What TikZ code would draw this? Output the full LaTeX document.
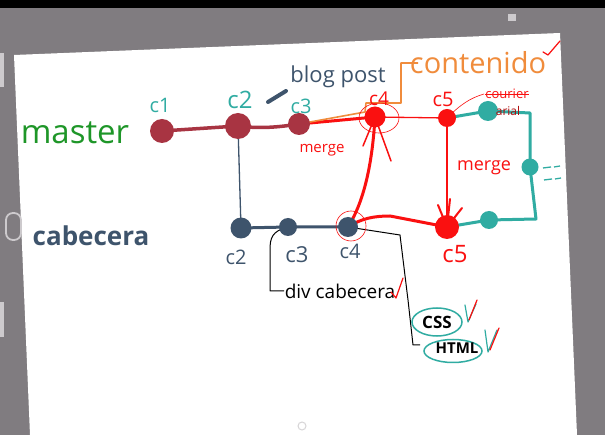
\documentclass[tikz,border=0pt]{standalone}
\usepackage{fontspec}
\setmainfont{Open Sans}
\usetikzlibrary{shapes.geometric}
\definecolor{bggray}{RGB}{128,124,128}
\definecolor{lightui}{RGB}{205,202,205}
\definecolor{mcol}{RGB}{168,52,66}
\definecolor{rcol}{RGB}{250,16,16}
\definecolor{tcol}{RGB}{48,172,162}
\definecolor{scol}{RGB}{62,84,108}
\definecolor{gcol}{RGB}{30,150,40}
\definecolor{ocol}{RGB}{240,140,60}
\pgfdeclarelayer{bg}
\pgfdeclarelayer{lines}
\pgfsetlayers{bg,lines,main}
\tikzset{
  commit/.style={circle, inner sep=0pt, minimum size=#1},
  lbl/.style={inner sep=0pt, font=\fontsize{#1}{#1}\selectfont},
  mline/.style={draw=mcol, line width=3.5pt, line cap=round},
  rline/.style={draw=rcol, line cap=round},
  tline/.style={draw=tcol, line width=3pt, line cap=round, line join=round},
  sline/.style={draw=scol, line cap=round},
  bline/.style={draw=black, line width=1pt, line join=round},
  oline/.style={draw=ocol, line width=1.6pt, line join=round},
  check/.style={line width=1.2pt, line cap=round, line join=round},
}
\begin{document}
\begin{tikzpicture}[x=1pt,y=-1pt]
\useasboundingbox (0,0) rectangle (605,435);
% ---------- background ----------
\begin{pgfonlayer}{bg}
\fill[bggray] (0,0) rectangle (605,435);
\fill[black] (0,0) rectangle (605,8);
\fill[white] (14,55) -- (560,33) -- (577,435) -- (30,435) -- cycle;
\fill[lightui] (508,14) rectangle (516,21);
\fill[lightui] (0,53) rectangle (4,87);
\fill[lightui] (0,302) rectangle (4,337);
\draw[lightui, line width=1.8pt, rounded corners=7pt] (6,213) rectangle (21,240);
\draw[lightui!80!white, line width=1pt] (302,426) circle (4);
\end{pgfonlayer}
% ---------- commits ----------
\node[commit=24pt, fill=mcol] (m1) at (162,131) {};
\node[commit=26pt, fill=mcol] (m2) at (238,126) {};
\node[commit=22pt, fill=mcol] (m3) at (299,124) {};
\node[commit=21pt, fill=rcol] (m4) at (375,117) {};
\node[commit=18pt, fill=rcol] (m5) at (447,118) {};
\node[commit=20pt, fill=tcol] (t1) at (488,111) {};
\node[commit=17pt, fill=tcol] (t2) at (530,167) {};
\node[commit=18pt, fill=tcol] (t3) at (489,220) {};
\node[commit=21pt, fill=scol] (k2) at (241,228) {};
\node[commit=18pt, fill=scol] (k3) at (288,227) {};
\node[commit=20pt, fill=scol] (k4) at (348,227) {};
\node[commit=24pt, fill=rcol] (k5) at (447,227) {};
% helper coordinates
\coordinate (o1) at (365,112);
\coordinate (o2) at (366,103);
\coordinate (o3) at (401,103);
\coordinate (o4) at (401,63);
\coordinate (o5) at (418,63);
\coordinate (tc1) at (530,113);
\coordinate (tc2) at (536,219);
\coordinate (b1) at (270,291);
\coordinate (b2) at (284,291);
\coordinate (b3) at (400,235);
\coordinate (b4) at (413,345);
\coordinate (b5) at (420,345);
% ---------- connectors ----------
\begin{pgfonlayer}{lines}
\draw[mline] (m1.center) -- (m2.center);
\draw[mline] (m2.center) .. controls (260,129) and (280,127) .. (m3.center);
\draw[rline, line width=3pt] (m3.center) -- (m4.center);
\draw[oline] (m3.center) -- (o1) -- (o2) -- (o3) -- (o4) -- (o5);
\draw[rline, line width=1.3pt] (m4.center) -- (m5.center);
\draw[tline] (m5.center) -- (t1.center) -- (tc1) -- (t2.center) -- (tc2) -- (t3.center) -- (k5.center);
\draw[sline, line width=1.3pt] (m2.center) -- (k2.center);
\draw[sline, line width=3pt] (k2.center) -- (k3.center) -- (k4.center);
\draw[rline, line width=3pt] (k4.center) .. controls (362,205) and (372,170) .. (m4.center);
\draw[rline, line width=1.5pt] (m4.center) -- (363,146);
\draw[rline, line width=1.5pt] (m4.center) -- (391,161);
\draw[rline, line width=3pt] (k4.center) .. controls (362,218) and (375,216) .. (390,216) -- (k5.center);
\draw[rline, line width=1.3pt] (m5.center) -- (k5.center);
\draw[rline, line width=2pt] (k5.center) -- (438,205);
\draw[rline, line width=2pt] (k5.center) -- (450,199);
\draw[rline, line width=2pt] (k5.center) -- (462,208);
\draw[rline, line width=0.6pt] (m5.center) .. controls (460,105) and (470,98) .. (484,94);
\draw[bline] (k3.center) .. controls (272,231) and (270,238) .. (270,250) -- (b1) -- (b2);
\draw[bline] (k4.center) -- (b3) -- (408,300) -- (b4) -- (b5);
\end{pgfonlayer}
\draw[rcol, line width=0.6pt] (379,118) ellipse (20 and 15);
\draw[rcol, line width=0.6pt] (351,226) circle (15);
% slash before blog post
\draw[scol, line width=4pt, line cap=round] (268,102) -- (286,91);
% ---------- labels ----------
\node[lbl=33, text=gcol] (lmaster) at (75,133) {master};
\node[lbl=26, text=scol, font=\bfseries\fontsize{26}{26}\selectfont] (lcab) at (91,236) {cabecera};
\node[lbl=20, text=tcol] (lc1) at (160,105) {c1};
\node[lbl=24, text=tcol] (lc2) at (240,100) {c2};
\node[lbl=20, text=tcol] (lc3) at (301,106) {c3};
\node[lbl=19, text=rcol] (lc4) at (379,99) {c4};
\node[lbl=20, text=rcol] (lc5) at (443,99) {c5};
\node[lbl=20, text=scol] (lk2) at (236,257) {c2};
\node[lbl=22, text=scol] (lk3) at (297,255) {c3};
\node[lbl=20, text=scol] (lk4) at (350,251) {c4};
\node[lbl=24, text=rcol] (lk5) at (455,254) {c5};
\node[lbl=22, text=scol] (lblog) at (338,77) {blog post};
\node[lbl=29, text=ocol] (lcont) at (478,63) {contenido};
\node[lbl=15, text=rcol] (lmerge1) at (322,150) {merge};
\node[lbl=18, text=rcol] (lmerge2) at (484,168) {merge};
\node[lbl=13, text=rcol] (lcour) at (507,94) {courier};
\draw[rcol, line width=0.8pt] (lcour.west) -- (lcour.east);
\node[lbl=12, text=rcol!70!black] (larial) at (508,111) {arial};
\node[lbl=19, text=black] (ldiv) at (340,291) {div cabecera};
\node[ellipse, draw=tcol, line width=1.5pt, minimum width=50pt, minimum height=28pt, inner sep=0pt] (ecss) at (437,322) {};
\node[lbl=17, text=black, font=\bfseries\fontsize{17}{17}\selectfont] (lcss) at (437,322) {CSS};
\node[ellipse, draw=tcol, line width=1.5pt, minimum width=58pt, minimum height=23pt, inner sep=0pt] (ehtml) at (453,351) {};
\node[lbl=15, text=black, font=\bfseries\fontsize{15}{15}\selectfont] (lhtml) at (457,348) {HTML};
% teal dashes
\draw[tcol, line width=1.3pt] (543,168) -- (551,167) (554,167) -- (560,166);
\draw[tcol, line width=1.3pt] (544,180) -- (552,179) (555,179) -- (561,178);
% checks
\draw[rcol, check] (543,52) -- (548,55) -- (560,41);
\draw[rcol, check] (391,292) -- (396,298) -- (403,278);
\draw[tcol, check] (465,305) -- (468,322) -- (476,304);
\draw[rcol, check] (469,320) -- (477,300);
\draw[tcol, check] (485,330) -- (488,352) -- (497,330);
\draw[rcol, check] (490,350) -- (499,328);
\end{tikzpicture}
\end{document}
